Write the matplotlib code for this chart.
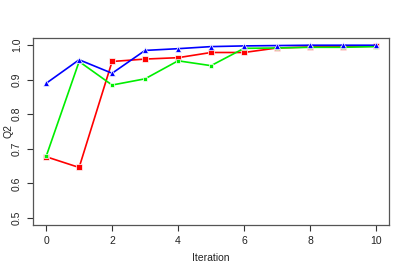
import numpy as np
import matplotlib
matplotlib.use("Agg")
import matplotlib.pyplot as plt

# --------------------------
# data
# --------------------------
iteration = np.arange(11)
q2_red = [0.677, 0.646, 0.952, 0.959, 0.963, 0.978, 0.978, 0.991, 0.994, 0.995, 0.996]
q2_green = [0.678, 0.952, 0.884, 0.902, 0.954, 0.940, 0.990, 0.991, 0.993, 0.993, 0.995]
q2_blue = [0.889, 0.957, 0.918, 0.984, 0.989, 0.995, 0.997, 0.998, 0.999, 0.999, 0.999]

x_ticks = [0, 2, 4, 6, 8, 10]
y_ticks = [0.5, 0.6, 0.7, 0.8, 0.9, 1.0]

# --------------------------
# plot (R base-graphics look)
# --------------------------
plt.rcParams['font.family'] = ['Liberation Sans', 'DejaVu Sans']

fig = plt.figure(figsize=(4.07, 2.73), dpi=100)
ax = fig.add_axes([0.081, 0.176, 0.875, 0.685])

ax.plot(iteration, q2_red, color='#ff0000', lw=1.2, marker='s', ms=4,
        mec='white', mew=0.5)
ax.plot(iteration, q2_green, color='#00ee00', lw=1.2, marker='s', ms=3.5,
        mec='white', mew=0.5)
ax.plot(iteration, q2_blue, color='#0000ff', lw=1.2, marker='^', ms=4.5,
        mec='white', mew=0.5)

ax.set_xlim(-0.4, 10.4)
ax.set_ylim(0.48, 1.02)
ax.set_xticks(x_ticks)
ax.set_yticks(y_ticks)
ax.set_xticklabels([str(t) for t in x_ticks])
ax.set_yticklabels([f"{t:.1f}" for t in y_ticks], rotation=90, va='center')

for s in ax.spines.values():
    s.set_color('#555555')
    s.set_linewidth(0.9)
ax.tick_params(direction='out', length=4, width=0.8, color='#333333',
               labelsize=7.5, labelcolor='#222222', pad=4)

ax.set_xlabel("Iteration", fontsize=7.5, color='#222222', va='center')
ax.set_ylabel("Q2", fontsize=7.5, color='#222222', va='center', ha='center')
ax.xaxis.set_label_coords(0.5, -0.176)
ax.yaxis.set_label_coords(-0.07, 0.5)

fig.savefig("out.png", dpi=100)
